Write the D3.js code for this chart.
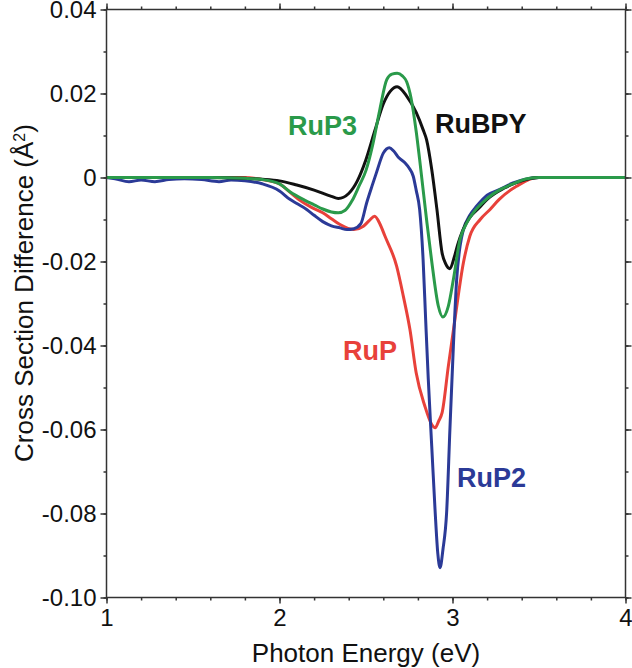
<!DOCTYPE html>
<html><head><meta charset="utf-8">
<script src="https://cdn.jsdelivr.net/npm/d3@7/dist/d3.min.js"></script>
<style>body{margin:0;background:#fff;} svg{display:block;}</style>
</head><body>
<svg id="chart" width="632" height="668"></svg>
<script>
// ---------- data ----------
const rubpyE = [1.0,1.6,1.8,1.9,2.0,2.1,2.2,2.3,2.34,2.4,2.45,2.5,2.55,2.6,2.64,2.68,2.735,2.79,2.83,2.85,2.88,2.91,2.94,2.96,2.985,3.01,3.03,3.06,3.1,3.15,3.2,3.3,3.4,3.5,4.0];
const rubpyV = [0,0,-0.0002,-0.0004,-0.0008,-0.0018,-0.003,-0.0045,-0.0050,-0.0038,-0.0008,0.0043,0.0110,0.0175,0.0205,0.0216,0.0194,0.0155,0.0114,0.0090,0.0019,-0.0076,-0.0180,-0.0205,-0.0217,-0.0190,-0.0160,-0.0125,-0.0095,-0.0074,-0.0052,-0.0025,-0.0008,0,0];

const rup3E = [1.0,1.6,1.8,1.9,2.0,2.06,2.15,2.2,2.25,2.3,2.34,2.38,2.42,2.46,2.5,2.54,2.58,2.62,2.65,2.68,2.71,2.735,2.76,2.79,2.81,2.85,2.88,2.918,2.944,2.976,3.005,3.043,3.08,3.12,3.2,3.275,3.35,3.43,3.5,4.0];
const rup3V = [0,0,-0.0002,-0.0005,-0.0015,-0.0034,-0.0055,-0.0065,-0.0075,-0.0082,-0.0084,-0.0078,-0.0055,-0.0020,0.0017,0.0080,0.0162,0.0233,0.0246,0.0248,0.0242,0.0228,0.0190,0.0110,0.0043,-0.0100,-0.0200,-0.0306,-0.0332,-0.0306,-0.0243,-0.0148,-0.0110,-0.0084,-0.0050,-0.0029,-0.0015,-0.0003,0,0];

const rup2E = [1.0,1.05,1.13,1.2,1.28,1.36,1.45,1.55,1.65,1.72,1.8,1.9,2.0,2.06,2.1,2.157,2.2,2.25,2.3,2.35,2.39,2.43,2.47,2.504,2.535,2.56,2.6,2.635,2.66,2.69,2.725,2.75,2.773,2.79,2.81,2.83,2.845,2.86,2.88,2.9,2.915,2.928,2.945,2.966,2.985,3.005,3.024,3.045,3.063,3.1,3.14,3.2,3.27,3.35,3.45,3.5,4.0];
const rup2V = [0,-0.0003,-0.0010,-0.0006,-0.0010,-0.0005,-0.0003,-0.0005,-0.0010,-0.0006,-0.0008,-0.0015,-0.0032,-0.0052,-0.0062,-0.0076,-0.0090,-0.0105,-0.0115,-0.0120,-0.0124,-0.0122,-0.0110,-0.0060,-0.0020,0.0011,0.0058,0.0071,0.0063,0.0047,0.0035,0.0022,0.0003,-0.0030,-0.0076,-0.0195,-0.0340,-0.0480,-0.0640,-0.0798,-0.0895,-0.0929,-0.0885,-0.0798,-0.0600,-0.0402,-0.0243,-0.0160,-0.0124,-0.0090,-0.0068,-0.0042,-0.0029,-0.0013,-0.0002,0,0];

const rupE = [1.0,1.8,1.9,2.0,2.06,2.12,2.18,2.25,2.3,2.35,2.43,2.485,2.52,2.55,2.58,2.61,2.677,2.716,2.754,2.79,2.84,2.88,2.9,2.92,2.94,2.976,3.014,3.063,3.1,3.16,3.217,3.27,3.37,3.49,4.0];
const rupV = [0,0,-0.0005,-0.0015,-0.0035,-0.0055,-0.0070,-0.0084,-0.0098,-0.0112,-0.0124,-0.0116,-0.0102,-0.0092,-0.0110,-0.0140,-0.0211,-0.0283,-0.0362,-0.0465,-0.0544,-0.0588,-0.0596,-0.0580,-0.0560,-0.0449,-0.0338,-0.0203,-0.0140,-0.0100,-0.0076,-0.0052,-0.0021,0,0];

const seriesNames = ["RuP","RuP2","RuP3","RuBPY"];
const seriesColors = ["#e8413a","#2b3a97","#2a9a4a","#111111"];
const xTicks = [1,2,3,4];
const yTicks = [0.04,0.02,0,-0.02,-0.04,-0.06,-0.08,-0.10];
const yTickLabels = ["0.04","0.02","0","-0.02","-0.04","-0.06","-0.08","-0.10"];

// ---------- drawing ----------
const svg = d3.select("#chart");
const L = 106.5, R = 625.5, T = 9.5, B = 597.5;
const x = d3.scaleLinear().domain([1,4]).range([L,R]);
const y = d3.scaleLinear().domain([-0.10,0.04]).range([B,T]);

const series = [
  {name:"RuP", E:rupE, V:rupV},
  {name:"RuP2", E:rup2E, V:rup2V},
  {name:"RuP3", E:rup3E, V:rup3V},
  {name:"RuBPY", E:rubpyE, V:rubpyV}
];
const color = d3.scaleOrdinal().domain(seriesNames).range(seriesColors);
const line = d3.line().x(d=>x(d[0])).y(d=>y(d[1])).curve(d3.curveMonotoneX);

svg.append("clipPath").attr("id","clip").append("rect")
  .attr("x",L).attr("y",T).attr("width",R-L).attr("height",B-T);

const drawOrder = ["RuP","RuP2","RuBPY","RuP3"];
drawOrder.forEach(n=>{
  const s = series.find(d=>d.name===n);
  svg.append("path")
    .datum(s.E.map((e,i)=>[e,s.V[i]]))
    .attr("d",line)
    .attr("fill","none")
    .attr("stroke",color(n))
    .attr("stroke-width",3)
    .attr("stroke-linejoin","round")
    .attr("clip-path","url(#clip)");
});

// axes (ticks outward on all four sides)
const axisColor = "#333";
const fmtNone = ()=> "";
const xMinor = d3.range(1,4.0001,0.2);
const yMinor = d3.range(-0.10,0.04001,0.01);
const font = "'Liberation Sans', Arial, Helvetica, sans-serif";

function addAxis(axis, transform){
  const g = svg.append("g").attr("transform",transform).call(axis);
  g.select(".domain").remove();
  g.selectAll("line").attr("stroke",axisColor).attr("stroke-width",1.5);
  return g;
}
// minor
addAxis(d3.axisBottom(x).tickValues(xMinor).tickSize(3).tickFormat(fmtNone), `translate(0,${B})`);
addAxis(d3.axisTop(x).tickValues(xMinor).tickSize(3).tickFormat(fmtNone), `translate(0,${T})`);
addAxis(d3.axisLeft(y).tickValues(yMinor).tickSize(3).tickFormat(fmtNone), `translate(${L},0)`);
addAxis(d3.axisRight(y).tickValues(yMinor).tickSize(3).tickFormat(fmtNone), `translate(${R},0)`);
// major
const gx = addAxis(d3.axisBottom(x).tickValues(xTicks).tickSize(6).tickPadding(5).tickFormat(d3.format("d")), `translate(0,${B})`);
addAxis(d3.axisTop(x).tickValues(xTicks).tickSize(6).tickFormat(fmtNone), `translate(0,${T})`);
const gy = addAxis(d3.axisLeft(y).tickValues(yTicks).tickSize(6).tickPadding(4).tickFormat((d,i)=>yTickLabels[i]), `translate(${L},0)`);
addAxis(d3.axisRight(y).tickValues(yTicks).tickSize(6).tickFormat(fmtNone), `translate(${R},0)`);

[gx,gy].forEach(g=>g.selectAll("text")
  .attr("fill","#111").style("font-family",font)
  .style("font-size","24px"));

// frame
svg.append("rect").attr("x",L).attr("y",T).attr("width",R-L).attr("height",B-T)
  .attr("fill","none").attr("stroke",axisColor).attr("stroke-width",1.5);

// axis titles
svg.append("text").attr("x",(L+R)/2).attr("y",662).attr("text-anchor","middle")
  .style("font-family",font).style("font-size","26px").attr("fill","#111")
  .text("Photon Energy (eV)");
const yt = svg.append("text").attr("transform",`translate(33,293) rotate(-90)`)
  .attr("text-anchor","middle").style("font-family",font).style("font-size","26px").attr("fill","#111");
yt.append("tspan").text("Cross Section Difference (Å");
yt.append("tspan").attr("baseline-shift","super").style("font-size","16px").text("2");
yt.append("tspan").text(")");

// series labels
const seriesLabelX = [343,457,288,435];
const seriesLabelY = [360,487,135,133];
seriesNames.forEach((n,i)=>{
  svg.append("text").attr("x",seriesLabelX[i]).attr("y",seriesLabelY[i])
    .style("font-family",font).style("font-size","27px").style("font-weight","bold")
    .attr("fill",color(n)).text(n);
});
</script>
</body></html>
